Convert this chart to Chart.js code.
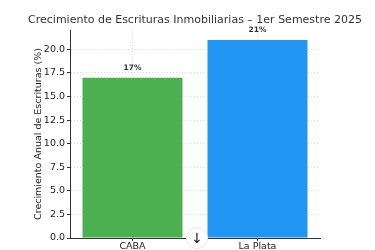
<!DOCTYPE html>
<html><head><meta charset="utf-8">
<script src="https://cdn.jsdelivr.net/npm/chart.js@4"></script>
<style>
html,body{margin:0;padding:0;background:#fff;}
#wrap{position:relative;width:375px;height:250px;}
#arrow{position:absolute;left:186px;top:227px;width:22px;height:22px;border-radius:50%;background:#fff;border:1px solid #e8e8e8;box-sizing:border-box;font:14px "DejaVu Sans";color:#111;text-align:center;line-height:21px;}
</style></head>
<body>
<div id="wrap"><canvas id="c" width="375" height="250"></canvas><div id="arrow">↓</div></div>
<script>
const categories = ["CABA", "La Plata"];
const growth = [17, 21];
const barColors = ["#4CAF50", "#2196F3"];
const yTicksMax = 22.05;
const titleText = "Crecimiento de Escrituras Inmobiliarias – 1er Semestre 2025";
const yTitle = "Crecimiento Anual de Escrituras (%)";

const extras = {
  id: 'extras',
  afterDatasetsDraw(chart) {
    const ctx = chart.ctx;
    const a = chart.chartArea;
    ctx.save();
    ctx.fillStyle = '#333';
    ctx.font = '11px "DejaVu Sans"';
    ctx.textAlign = 'center';
    ctx.textBaseline = 'middle';
    ctx.fillText(titleText, (a.left + a.right) / 2, 20);
    const meta = chart.getDatasetMeta(0);
    ctx.font = 'bold 7.5px "DejaVu Sans"';
    ctx.fillStyle = '#333';
    ctx.textBaseline = 'alphabetic';
    meta.data.forEach((bar, i) => {
      ctx.fillText(growth[i] + '%', bar.x, bar.y - 7.5);
    });
    ctx.restore();
  }
};

new Chart(document.getElementById('c'), {
  type: 'bar',
  data: {
    labels: categories,
    datasets: [{
      data: growth,
      backgroundColor: barColors,
      borderWidth: 0,
      categoryPercentage: 0.8,
      barPercentage: 1.0
    }]
  },
  options: {
    responsive: false,
    animation: false,
    layout: { padding: { left: 33, right: 55, top: 30, bottom: 0 } },
    plugins: { legend: { display: false }, title: { display: false }, tooltip: { enabled: false } },
    scales: {
      x: {
        offset: true,
        grid: { offset: false, color: '#dcdcdc', tickColor: '#333', tickLength: 3, tickBorderDash: [] },
        border: { display: true, color: '#333', width: 1, dash: [1, 2] },
        ticks: { color: '#222', font: { family: 'DejaVu Sans', size: 9.5 }, padding: 0 },
        afterFit(s) { s.height = 12; }
      },
      y: {
        min: 0, max: yTicksMax,
        grid: { color: '#dcdcdc', tickColor: '#333', tickLength: 3, tickBorderDash: [] },
        border: { display: true, color: '#333', width: 1, dash: [1, 2] },
        ticks: { stepSize: 2.5, includeBounds: false, color: '#222', font: { family: 'DejaVu Sans', size: 9.5 }, padding: 2, callback: v => Number(v).toFixed(1) },
        title: { display: true, text: yTitle, color: '#222', font: { family: 'DejaVu Sans', size: 9.5 }, padding: { top: 0, bottom: 3 } },
        afterFit(s) { s.width = 37; }
      }
    }
  },
  plugins: [extras]
});
</script>
</body></html>
